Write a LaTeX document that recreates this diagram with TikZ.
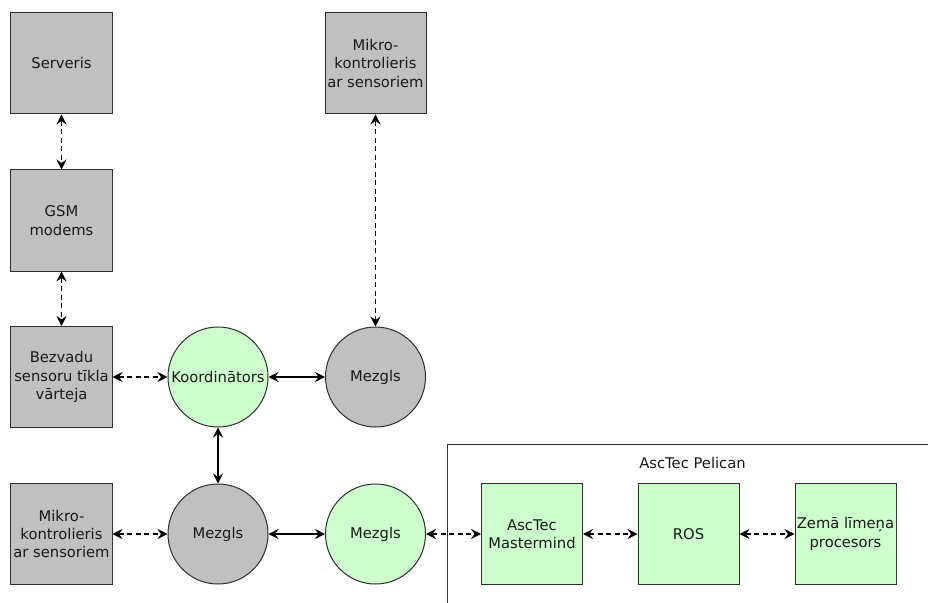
\documentclass[tikz,border=0pt]{standalone}
\usepackage{fontspec}
\setmainfont{DejaVu Sans}
\usetikzlibrary{arrows.meta}
\definecolor{boxgray}{HTML}{C0C0C0}
\definecolor{boxgreen}{HTML}{CCFFCC}
\definecolor{edge}{HTML}{2E2E2E}
\begin{document}
\begin{tikzpicture}[x=1bp,y=-1bp,
  lbl/.style={font=\fontsize{14.8}{18.5}\selectfont, text=black!90, align=center},
  block/.style={lbl, draw=edge, line width=1bp, minimum width=101bp, minimum height=101bp, inner sep=0pt},
  graybox/.style={block, fill=boxgray},
  greenbox/.style={block, fill=boxgreen},
  disc/.style={lbl, circle, draw=edge, line width=1bp, minimum size=100bp, inner sep=0pt},
  graydisc/.style={disc, fill=boxgray},
  greendisc/.style={disc, fill=boxgreen},
  link/.style={line width=1.3bp, black, {Stealth[length=10bp, width=10bp, inset=3.5bp]}-{Stealth[length=10bp, width=10bp, inset=3.5bp]}},
  dlink/.style={link, dash pattern=on 5bp off 3.5bp}
]
\useasboundingbox (0,0) rectangle (928,603);

% left column
\node[graybox] (srv) at (61.5,63.5) {Serveris};
\node[graybox] (gsm) at (61.5,220.5) {GSM\\modems};
\node[graybox] (gw)  at (61.5,377) {Bezvadu\\sensoru tīkla\\vārteja};
\node[graybox] (mcBot) at (61.5,534) {Mikro-\\kontrolieris\\ar sensoriem};

% network nodes
\node[greendisc] (coord) at (218,377) {Koordinātors};
\node[graydisc] (nodeTop) at (375.5,377) {Mezgls};
\node[graydisc] (nodeBot) at (218,534) {Mezgls};
\node[greendisc] (nodeGreen) at (375.5,534) {Mezgls};
\node[graybox] (mcTop) at (375.5,63.5) {Mikro-\\kontrolieris\\ar sensoriem};

% AscTec Pelican frame (open to the right and bottom)
\coordinate (frameB) at (447.5,603);
\coordinate (frameC) at (447.5,444);
\coordinate (frameR) at (928,444);
\draw[edge, line width=1bp] (frameB) -- (frameC) -- (frameR);
\node[lbl] (pelican) at (692.5,463) {AscTec Pelican};

\node[greenbox] (mm)  at (532,534) {AscTec\\Mastermind};
\node[greenbox] (ros) at (688.5,534) {ROS};
\node[greenbox] (llp) at (845.5,534) {Zemā līmeņa\\procesors};

% connectors
\draw[dlink] (srv) -- (gsm);
\draw[dlink] (gsm) -- (gw);
\draw[dlink] (gw) -- (coord);
\draw[dlink] (mcTop) -- (nodeTop);
\draw[dlink] (mcBot) -- (nodeBot);
\draw[link] (coord) -- (nodeTop);
\draw[link] (coord) -- (nodeBot);
\draw[link] (nodeBot) -- (nodeGreen);
\draw[dlink] (nodeGreen) -- (mm);
\draw[dlink] (mm) -- (ros);
\draw[dlink] (ros) -- (llp);
\end{tikzpicture}
\end{document}
